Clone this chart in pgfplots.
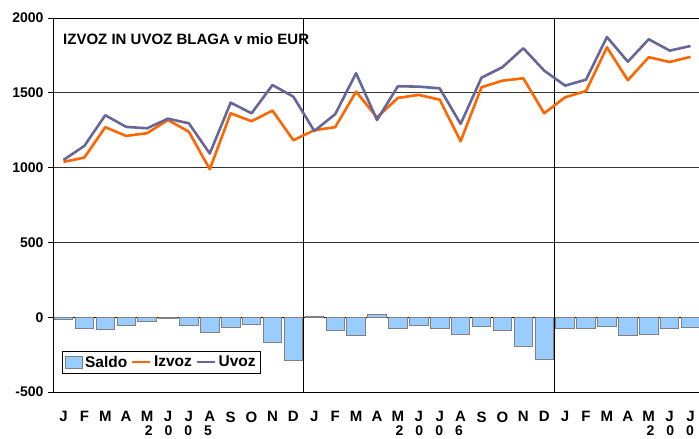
\documentclass[border=0pt]{standalone}
\usepackage{fontspec}
\setmainfont{Liberation Sans}
\usepackage{pgfplots}
\pgfplotsset{compat=1.18}
\definecolor{saldo}{HTML}{99CCFF}
\definecolor{saldoedge}{HTML}{808080}
\definecolor{izvoz}{HTML}{FF6600}
\definecolor{uvoz}{HTML}{666699}
\newcommand{\yr}[4]{#1\hspace{12pt}#2\hspace{12pt}#3\hspace{12pt}#4}
\begin{document}
\begin{tikzpicture}
\begin{axis}[
  at={(0pt,0pt)}, anchor=south west,
  scale only axis, width=648pt, height=374pt,
  xmin=-0.5, xmax=30.5, ymin=-500, ymax=2000,
  clip=false,
  ytick={-500,0,500,1000,1500,2000},
  yticklabels={-500,0,500,1000,1500,2000},
  xtick={0,...,30},
  xticklabels={J,F,M,A,M,J,J,A,S,O,N,D,J,F,M,A,M,J,J,A,S,O,N,D,J,F,M,A,M,J,J},
  xtick pos=bottom, ytick pos=left,
  x tick style={draw=none},
  y tick style={black, line width=0.8pt},
  tick align=outside, major tick length=5pt,
  ymajorgrids, grid style={black!80, line width=0.7pt},
  extra x ticks={11.5,23.5}, extra x tick labels={},
  extra x tick style={grid=major, major tick length=0pt, major grid style={black, line width=0.8pt}},
  extra y ticks={0}, extra y tick labels={},
  extra y tick style={grid=major, major grid style={black, line width=1.3pt}},
  axis line style={black, line width=0.9pt},
  /pgf/number format/assume math mode=true,
  yticklabel style={font=\bfseries\fontsize{14}{16}\selectfont, xshift=-1pt},
  xticklabel style={font=\bfseries\fontsize{15}{17}\selectfont, yshift=-11pt},
  legend columns=-1,
  legend style={at={(axis description cs:0.0139,0.0481)}, anchor=south west,
    draw=black, line width=0.6pt, fill=white,
    font=\bfseries\fontsize{15.5}{17}\selectfont,
    inner xsep=2.5pt, inner ysep=2.5pt,
    nodes={inner xsep=2.5pt, inner ysep=2.5pt},
    /tikz/every even column/.append style={column sep=1.5pt}},
]
\addplot[ybar, bar width=18.5pt, fill=saldo, draw=saldoedge, line width=0.8pt,
  legend image code/.code={\draw[fill=saldo, draw=saldoedge, line width=0.8pt] (0pt,-6pt) rectangle (17pt,6pt);}]
  coordinates {
  (0,-13) (1,-76) (2,-79) (3,-55) (4,-30) (5,-6) (6,-53) (7,-104) (8,-69) (9,-50) (10,-168) (11,-288)
  (12,5) (13,-87) (14,-119) (15,17) (16,-75) (17,-54) (18,-73) (19,-113) (20,-62) (21,-88) (22,-196) (23,-280)
  (24,-77) (25,-75) (26,-64) (27,-122) (28,-117) (29,-75) (30,-70)};
\addlegendentry{Saldo}
\addplot[izvoz, line width=2.6pt, line join=round,
  legend image code/.code={\draw[izvoz, line width=2.2pt] (0pt,0pt) -- (18pt,0pt);}]
  coordinates {
  (0,1038) (1,1067) (2,1270) (3,1212) (4,1230) (5,1318) (6,1240) (7,989) (8,1363) (9,1310) (10,1381) (11,1183)
  (12,1250) (13,1270) (14,1508) (15,1335) (16,1466) (17,1486) (18,1454) (19,1176) (20,1537) (21,1581) (22,1597) (23,1363)
  (24,1470) (25,1512) (26,1804) (27,1584) (28,1738) (29,1706) (30,1740)};
\addlegendentry{Izvoz}
\addplot[uvoz, line width=2.6pt, line join=round,
  legend image code/.code={\draw[uvoz, line width=2.2pt] (0pt,0pt) -- (18pt,0pt);}]
  coordinates {
  (0,1051) (1,1145) (2,1350) (3,1272) (4,1263) (5,1327) (6,1296) (7,1094) (8,1434) (9,1363) (10,1552) (11,1474)
  (12,1245) (13,1357) (14,1631) (15,1318) (16,1544) (17,1541) (18,1530) (19,1292) (20,1601) (21,1671) (22,1798) (23,1648)
  (24,1548) (25,1588) (26,1873) (27,1708) (28,1858) (29,1782) (30,1813)};
\addlegendentry{Uvoz}
\node[anchor=west, inner sep=0pt, font=\bfseries\fontsize{15}{17}\selectfont] at (axis cs:-0.02,1860) {IZVOZ IN UVOZ BLAGA v mio EUR};
\node[anchor=base, inner sep=0pt, font=\bfseries\fontsize{14}{16}\selectfont] at (axis cs:5.5,-500) [yshift=-44pt] {\yr2005};
\node[anchor=base, inner sep=0pt, font=\bfseries\fontsize{14}{16}\selectfont] at (axis cs:17.5,-500) [yshift=-44pt] {\yr2006};
\node[anchor=base, inner sep=0pt, font=\bfseries\fontsize{14}{16}\selectfont] at (axis cs:29.5,-500) [yshift=-44pt] {\yr2007};
\end{axis}
\pgfresetboundingbox
\useasboundingbox (-53pt,-47pt) rectangle (646pt,392pt);
\end{tikzpicture}
\end{document}
